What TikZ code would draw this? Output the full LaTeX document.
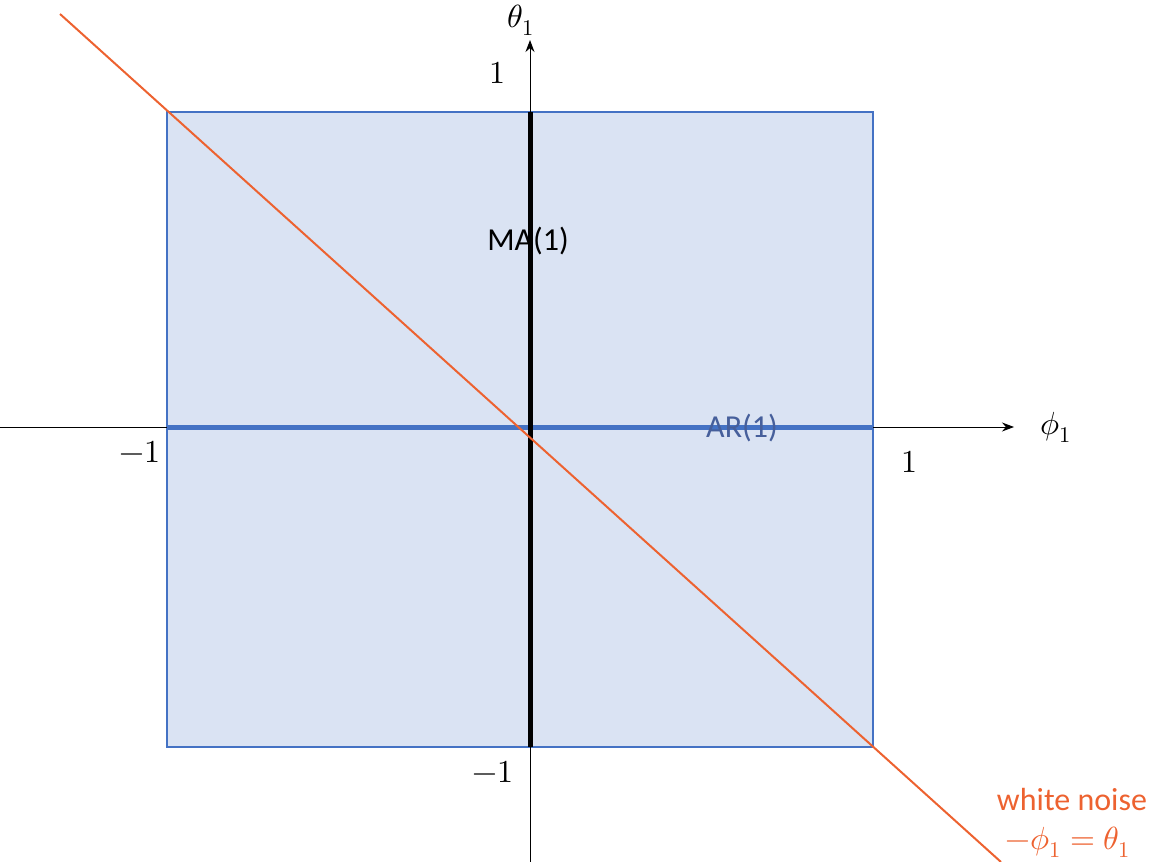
\documentclass[tikz,border=0pt]{standalone}
\usepackage{amsmath}
\usepackage{fontspec}
\usepackage{unicode-math}
\setmainfont{Carlito}
\setmathfont{Latin Modern Math}
\usepackage{xcolor}
\usepackage{tikz}
\usetikzlibrary{positioning,arrows.meta,calc}
\definecolor{region}{RGB}{218,227,243}
\definecolor{arblue}{RGB}{68,114,196}
\definecolor{artext}{RGB}{70,95,155}
\definecolor{noise}{RGB}{237,98,48}

\begin{document}
\begin{tikzpicture}[
    x=1pt,y=-1pt,
    axis/.style={->,>={Stealth[length=12pt,width=9pt]},line width=1pt,color=black},
    lbl/.style={font=\fontsize{32}{38}\selectfont,inner sep=0pt},
    model/.style={line width=5pt}
  ]
    \useasboundingbox (0,0) rectangle (1149,862);
    % stationary and invertible region
    \coordinate (tl) at (167,112);
    \coordinate (br) at (873,747);
    \draw[arblue,line width=1.2pt,fill=region] (tl) rectangle (br);

    % axes
    \coordinate (xstart) at (0,427);
    \coordinate (xend) at (1014,427);
    \coordinate (ystart) at (530,862);
    \coordinate (yend) at (530,40);
    \draw[axis] (xstart) -- (xend);
    \draw[axis] (ystart) -- (yend);

    % special cases
    \draw[model,arblue] (tl |- xstart) -- (br |- xstart);
    \node[lbl,color=artext] (ar) at (742,428) {AR(1)};
    \draw[model,black] (ystart |- tl) -- (ystart |- br);
    \node[lbl] (ma) at (528,241) {MA(1)};

    % white noise line
    \coordinate (wstart) at (60,14);
    \coordinate (wend) at (1001,862);
    \draw[noise,line width=2pt] (wstart) -- (wend);

    % axis labels
    \node[lbl] (theta) at (521,20) {$\theta_1$};
    \node[lbl] (phi) at (1056,427) {$\phi_1$};
    \node[lbl] (ytop) at (497,73) {$1$};
    \node[lbl] (ybot) at (493,772) {$-1$};
    \node[lbl] (xleft) at (140,452) {$-1$};
    \node[lbl] (xright) at (909,462) {$1$};
    \node[lbl,color=noise] (wn) at (1072,799) {white noise};
    \node[lbl,color=noise] (wneq) at (1068,842) {$-\phi_1=\theta_1$};
  \end{tikzpicture}
\end{document}
